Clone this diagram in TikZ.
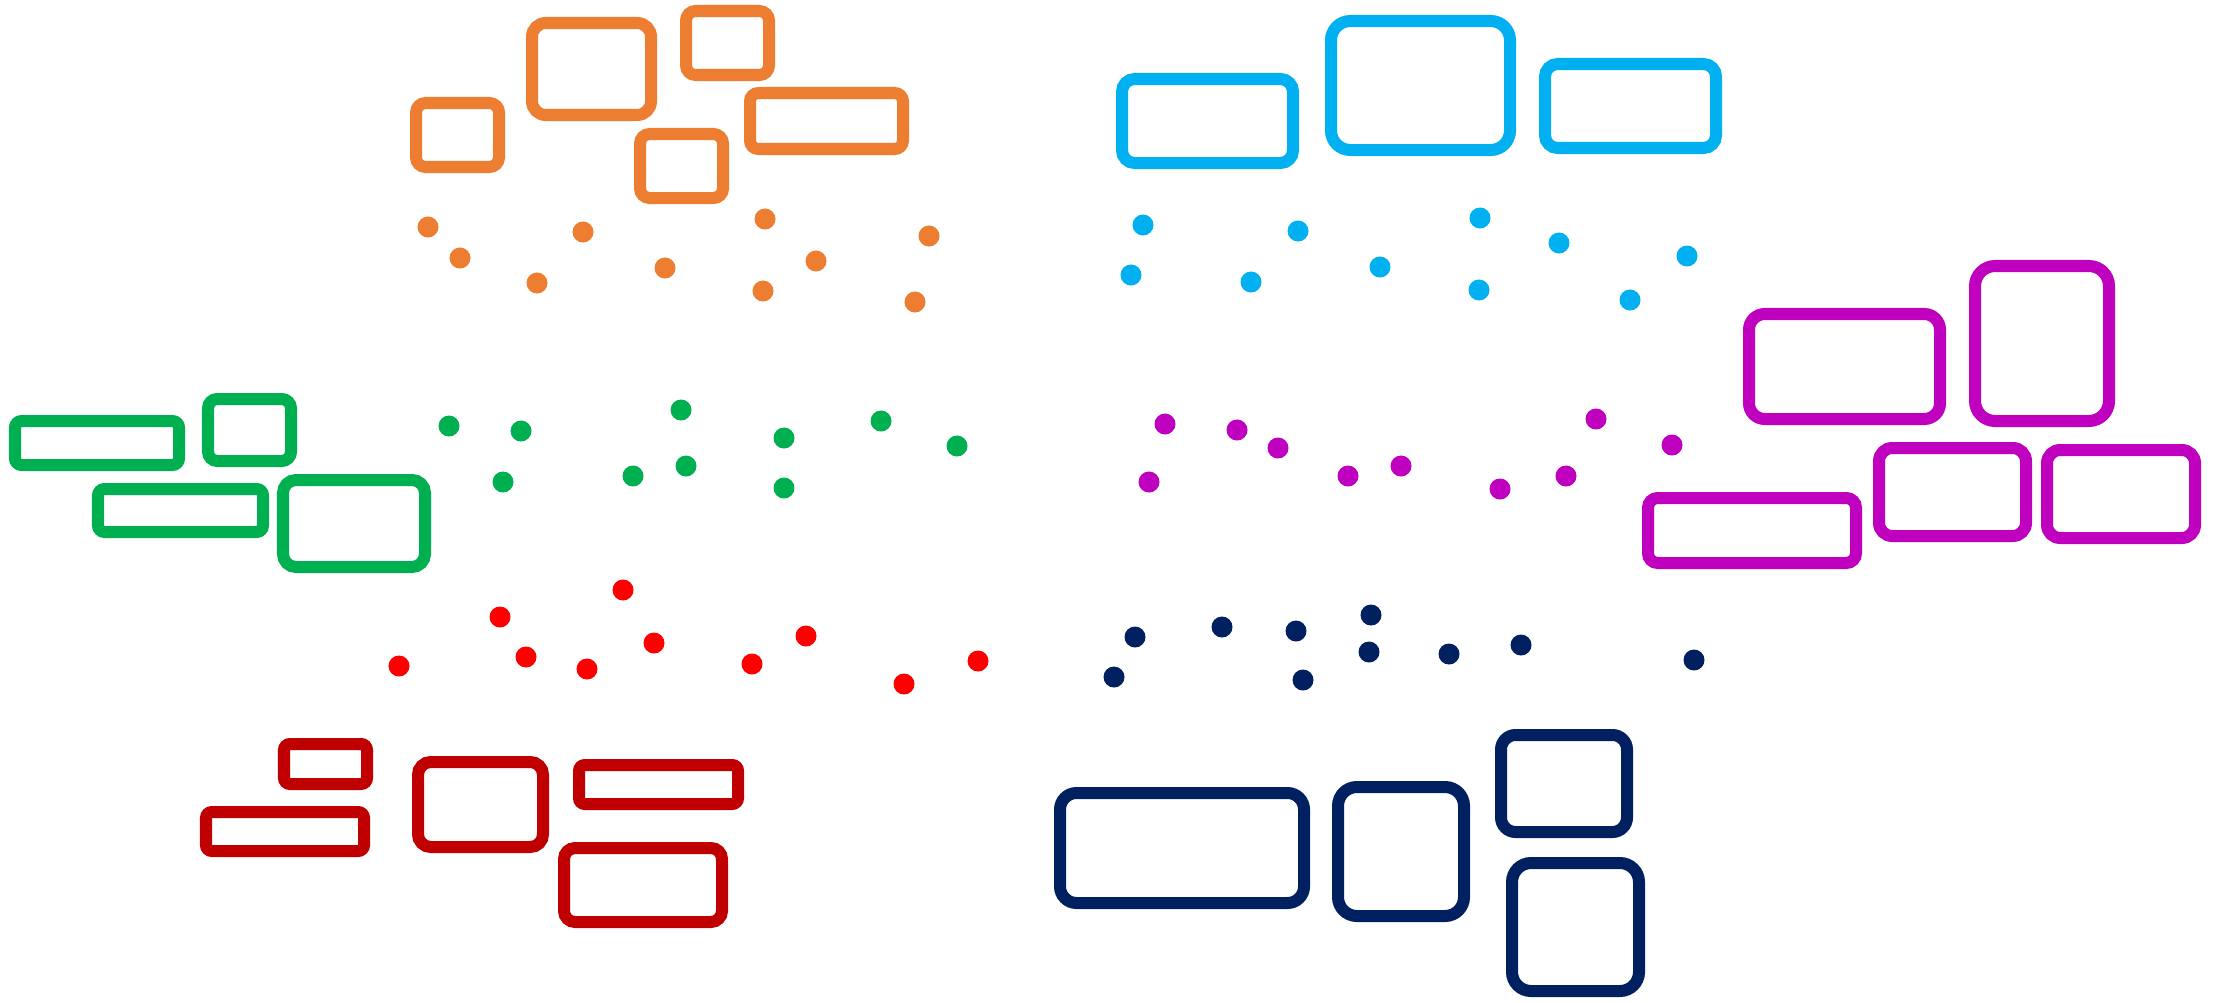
\documentclass[tikz,border=0pt]{standalone}
\usepackage{tikz}
\definecolor{cOrange}{HTML}{ED7D31}
\definecolor{cBlue}{HTML}{00B0F0}
\definecolor{cGreen}{HTML}{00B050}
\definecolor{cRed}{HTML}{FF0000}
\definecolor{cDarkRed}{HTML}{C00000}
\definecolor{cMagenta}{HTML}{BF00BF}
\definecolor{cNavy}{HTML}{002060}
\tikzset{
  frame/.style={rectangle, line width=0.12cm, inner sep=0pt, fill=none},
  dot/.style={circle, inner sep=0pt, minimum size=0.21cm, draw=none},
}
\newcommand\mybx[6]{%
  \pgfmathsetmacro\myBW{(#5-#3-12)*0.01}%
  \pgfmathsetmacro\myBH{(#6-#4-12)*0.01}%
  \pgfmathsetmacro\myBR{0.15*min(\myBW,\myBH)}%
  \node[frame, draw=#2, minimum width=\myBW cm, minimum height=\myBH cm, rounded corners=\myBR cm] (#1) at ({(#3+#5)/2},{(#4+#6)/2}) {};%
}
\begin{document}
\begin{tikzpicture}[x=0.01cm,y=-0.01cm]
\useasboundingbox (0,0) rectangle (2215,1003);
% orange
\mybx{o1}{cOrange}{410}{97}{505}{173}
\mybx{o2}{cOrange}{526}{17}{657}{121}
\mybx{o3}{cOrange}{680}{5}{775}{81}
\mybx{o4}{cOrange}{634}{128}{729}{204}
\mybx{o5}{cOrange}{744}{87}{909}{155}
% blue
\mybx{b1}{cBlue}{1116}{73}{1299}{169}
\mybx{b2}{cBlue}{1325}{15}{1516}{156}
\mybx{b3}{cBlue}{1539}{58}{1722}{154}
% magenta
\mybx{m1}{cMagenta}{1743}{308}{1946}{425}
\mybx{m2}{cMagenta}{1969}{260}{2115}{427}
\mybx{m3}{cMagenta}{1642}{492}{1862}{569}
\mybx{m4}{cMagenta}{1873}{442}{2032}{542}
\mybx{m5}{cMagenta}{2041}{444}{2201}{544}
% green
\mybx{g1}{cGreen}{9}{415}{185}{471}
\mybx{g2}{cGreen}{202}{393}{297}{467}
\mybx{g3}{cGreen}{92}{483}{269}{538}
\mybx{g4}{cGreen}{277}{474}{431}{573}
% dark red
\mybx{r1}{cDarkRed}{278}{738}{373}{790}
\mybx{r2}{cDarkRed}{200}{806}{370}{857}
\mybx{r3}{cDarkRed}{412}{756}{549}{853}
\mybx{r4}{cDarkRed}{573}{759}{744}{810}
\mybx{r5}{cDarkRed}{558}{842}{728}{928}
% navy
\mybx{n1}{cNavy}{1054}{787}{1310}{909}
\mybx{n2}{cNavy}{1332}{781}{1470}{922}
\mybx{n3}{cNavy}{1495}{729}{1633}{838}
\mybx{n4}{cNavy}{1506}{857}{1645}{997}
% dots
\foreach \p [count=\i] in {{428,227},{460,258},{537,283},{583,232},{665,268},{765,219},{816,261},{763,291},{929,236},{915,302}}
  \node[dot, fill=cOrange] (od\i) at (\p) {};
\foreach \p [count=\i] in {{1143,225},{1131,275},{1298,231},{1251,282},{1380,267},{1480,218},{1479,290},{1559,243},{1687,256},{1630,300}}
  \node[dot, fill=cBlue] (bd\i) at (\p) {};
\foreach \p [count=\i] in {{449,426},{521,431},{681,410},{784,438},{881,421},{503,482},{633,476},{686,466},{784,488},{957,446}}
  \node[dot, fill=cGreen] (gd\i) at (\p) {};
\foreach \p [count=\i] in {{1165,424},{1237,430},{1278,448},{1149,482},{1348,476},{1401,466},{1500,489},{1596,419},{1566,476},{1672,445}}
  \node[dot, fill=cMagenta] (md\i) at (\p) {};
\foreach \p [count=\i] in {{399,666},{500,617},{526,657},{587,669},{623,590},{654,643},{752,664},{806,636},{904,684},{978,661}}
  \node[dot, fill=cRed] (rd\i) at (\p) {};
\foreach \p [count=\i] in {{1135,637},{1222,627},{1296,631},{1371,615},{1369,652},{1449,654},{1521,645},{1114,677},{1303,680},{1694,660}}
  \node[dot, fill=cNavy] (nd\i) at (\p) {};
\end{tikzpicture}
\end{document}
